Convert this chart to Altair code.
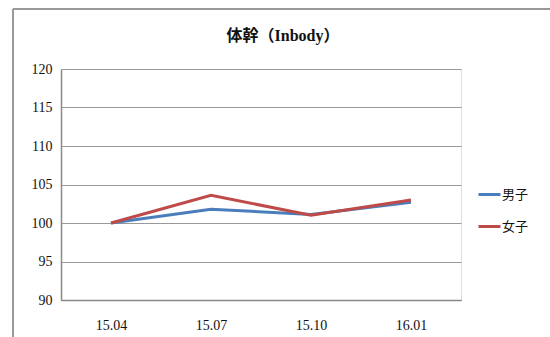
import altair as alt
import pandas as pd

periods = ["15.04", "15.07", "15.10", "16.01"]
boys = [100.0, 101.8, 101.1, 102.7]
girls = [100.0, 103.6, 101.0, 103.0]
series_names = ["男子", "女子"]
colors = ["#4A7EBB", "#BE4B48"]
y_ticks = [90, 95, 100, 105, 110, 115, 120]

rows = []
for p, b, g in zip(periods, boys, girls):
    rows.append({"period": p, "series": series_names[0], "value": b})
    rows.append({"period": p, "series": series_names[1], "value": g})
df = pd.DataFrame(rows)

serif = "Liberation Serif"

lines = alt.Chart(df).mark_line(strokeWidth=3).encode(
    x=alt.X("period:N", sort=periods, title=None,
            scale=alt.Scale(paddingInner=0, paddingOuter=0.5),
            axis=alt.Axis(labelAngle=0, ticks=False, grid=False, domainColor="#888",
                          labelFont=serif, labelFontSize=14, labelColor="#111",
                          labelPadding=18, domainWidth=1.5)),
    y=alt.Y("value:Q", title=None,
            scale=alt.Scale(domain=[90, 120], nice=False, zero=False),
            axis=alt.Axis(values=y_ticks, ticks=False, grid=True, gridColor="#999",
                          gridWidth=1, domainColor="#888", domainWidth=1.5,
                          labelFont=serif, labelFontSize=14, labelColor="#111",
                          labelPadding=9)),
    color=alt.Color("series:N", sort=series_names,
                    scale=alt.Scale(domain=series_names, range=colors),
                    legend=alt.Legend(title=None, orient="none", legendX=416, legendY=113,
                                      symbolType="stroke", symbolSize=484,
                                      symbolStrokeWidth=3, labelFontSize=13,
                                      labelFont="Noto Sans CJK JP", labelColor="#111",
                                      rowPadding=12, labelOffset=0)),
)

frame_top = alt.Chart(pd.DataFrame({"a": [0]})).mark_rule(color="#999", strokeWidth=2).encode(
    x=alt.value(-48), x2=alt.value(489), y=alt.value(-60))
frame_left = alt.Chart(pd.DataFrame({"a": [0]})).mark_rule(color="#999", strokeWidth=2).encode(
    x=alt.value(-48), y=alt.value(-60), y2=alt.value(268))

chart = alt.layer(frame_top, frame_left, lines).properties(
    width=400, height=231,
    title=alt.TitleParams("体幹（Inbody）", font="Liberation Serif, Noto Sans CJK JP",
                          fontSize=16, fontWeight="bold", color="#111", offset=-36, dx=22),
    autosize=alt.AutoSizeParams(type="none"),
    padding={"left": 61, "top": 69, "right": 89, "bottom": 37},
).configure_view(stroke=None).configure(background="white")

chart.save("out.html", embed_options={"renderer": "svg", "actions": False})
